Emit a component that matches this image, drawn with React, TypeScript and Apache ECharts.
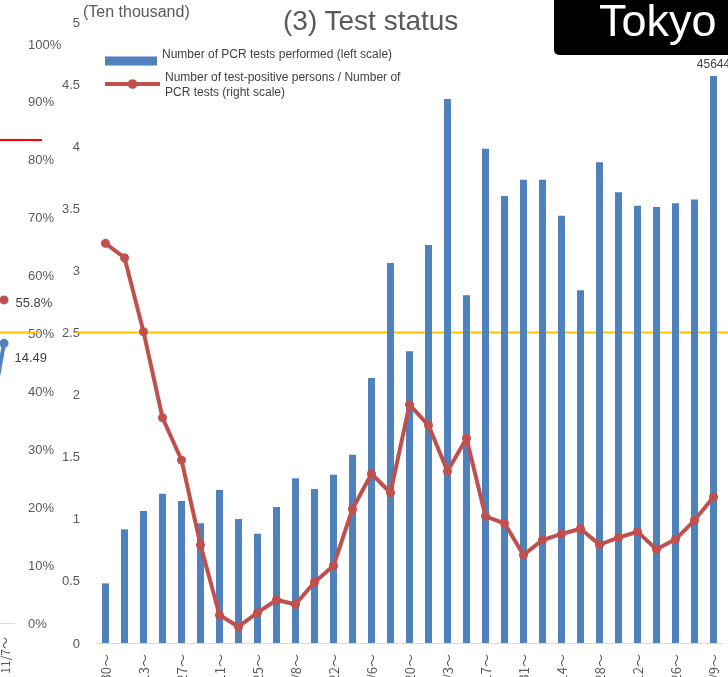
import React, { useEffect, useRef } from 'react';
import * as echarts from 'echarts';

const weeks = ['3/30～', '4/6～', '4/13～', '4/20～', '4/27～', '5/4～', '5/11～', '5/18～', '5/25～', '6/1～', '6/8～', '6/15～', '6/22～', '6/29～', '7/6～', '7/13～', '7/20～', '7/27～', '8/3～', '8/10～', '8/17～', '8/24～', '8/31～', '9/7～', '9/14～', '9/21～', '9/28～', '10/5～', '10/12～', '10/19～', '10/26～', '11/2～', '11/9～'];
// PCR tests performed (ten thousand)
const pcrTests = [0.48, 0.915, 1.063, 1.202, 1.143, 0.964, 1.232, 0.998, 0.88, 1.095, 1.326, 1.24, 1.355, 1.516, 2.134, 3.06, 2.35, 3.205, 4.38, 2.8, 3.98, 3.6, 3.73, 3.73, 3.44, 2.84, 3.87, 3.63, 3.52, 3.51, 3.54, 3.57, 4.5644];
// positive rate (%), right scale
const positiveRate = [32.18, 31.02, 25.07, 18.14, 14.73, 7.89, 2.25, 1.31, 2.44, 3.46, 3.12, 4.89, 6.22, 10.79, 13.63, 12.1, 19.19, 17.53, 13.83, 16.48, 10.2, 9.64, 7.09, 8.29, 8.78, 9.2, 7.92, 8.48, 8.96, 7.54, 8.35, 9.88, 11.76];
const leftTicks = [0, 0.5, 1, 1.5, 2, 2.5, 3, 3.5, 4, 4.5, 5];

// neighbouring chart (partly visible at the left edge)
const prevWeeks = ['10/31～', '11/7～'];
const prevRate = [null, 55.8];
const prevValue = [8.65, 14.49];
const thresholdMain = 2.5;
const thresholdPrevRed = 83.4;

const FONT = 'Liberation Sans, Arial, sans-serif';
const CJK = 'Noto Sans CJK JP, Noto Sans, sans-serif';
const GREY = '#595959';
const BAR_NAME = 'Number of PCR tests performed (left scale)';
const LINE_NAME = 'Number of test-positive persons / Number of\nPCR tests (right scale)';

export default function App() {
  const ref = useRef<HTMLDivElement>(null);
  useEffect(() => {
    if (!ref.current) return;
    const chart = echarts.init(ref.current, undefined, { renderer: 'svg' });
    const last = pcrTests.length - 1;
    chart.setOption({
      animation: false,
      textStyle: { fontFamily: FONT },
      title: {
        text: '(3) Test status',
        left: 278,
        top: 1,
        textStyle: { fontSize: 28, fontWeight: 'normal', color: GREY, fontFamily: FONT },
      },
      legend: [
        {
          orient: 'vertical',
          left: 105,
          top: 46,
          padding: 0,
          itemWidth: 52,
          itemHeight: 9,
          formatter: (name: string) => name + '\n ',
          textStyle: { fontSize: 12, lineHeight: 15, color: '#404040', fontFamily: FONT },
          data: [{ name: BAR_NAME, icon: 'rect' }],
        },
        {
          orient: 'vertical',
          left: 103,
          top: 69,
          padding: 0,
          itemWidth: 55,
          itemHeight: 12,
          textStyle: { fontSize: 12, lineHeight: 15, color: '#404040', fontFamily: FONT },
          data: [{ name: LINE_NAME, lineStyle: { width: 4, color: '#C0504D' }, itemStyle: { color: '#C0504D' } }],
        },
      ],
      grid: [
        { left: 96, top: 22, width: 627, height: 621, outerBoundsMode: 'none', containLabel: false },
        { left: -26, top: 44, width: 40, height: 579, outerBoundsMode: 'none', containLabel: false },
      ],
      xAxis: [
        {
          type: 'category', gridIndex: 0, data: weeks,
          axisLine: { lineStyle: { color: '#D9D9D9', width: 1 } },
          axisTick: { show: false },
          axisLabel: { rotate: 90, interval: 1, margin: 11, fontSize: 13, color: GREY, fontFamily: CJK },
        },
        {
          type: 'category', gridIndex: 1, data: prevWeeks,
          axisLine: { lineStyle: { color: '#D9D9D9', width: 1 } },
          axisTick: { show: false },
          axisLabel: { rotate: 90, interval: 0, margin: 14, fontSize: 12, color: GREY, fontFamily: CJK },
        },
      ],
      yAxis: [
        {
          type: 'value', gridIndex: 0, min: leftTicks[0], max: leftTicks[leftTicks.length - 1], interval: 0.5,
          axisLine: { show: false }, axisTick: { show: false }, splitLine: { show: false },
          axisLabel: { margin: 16, fontSize: 13, color: GREY, fontFamily: FONT },
        },
        { type: 'value', gridIndex: 0, min: 0, max: 50, show: false, splitLine: { show: false } },
        {
          type: 'value', gridIndex: 1, position: 'right', min: 0, max: 100, interval: 10,
          axisLine: { show: false }, axisTick: { show: false }, splitLine: { show: false },
          axisLabel: { margin: 14, fontSize: 13, color: GREY, fontFamily: FONT, formatter: '{value}%' },
        },
        { type: 'value', gridIndex: 1, min: 0, max: 30, show: false, splitLine: { show: false } },
      ],
      series: [
        {
          name: BAR_NAME,
          type: 'bar', xAxisIndex: 0, yAxisIndex: 0, barWidth: 7,
          itemStyle: { color: '#4F81BD' },
          data: pcrTests.map((v, i) => i === last ? {
            value: v,
            label: {
              show: true, position: 'top', distance: 6, fontSize: 12, color: '#404040', fontFamily: FONT,
              formatter: (p: any) => String(Math.round(p.value * 10000)),
            },
          } : v),
        },
        {
          name: LINE_NAME,
          type: 'line', xAxisIndex: 0, yAxisIndex: 1,
          symbol: 'circle', symbolSize: 9,
          lineStyle: { color: '#C0504D', width: 4 },
          itemStyle: { color: '#C0504D' },
          data: positiveRate,
        },
        {
          name: 'prevRate', type: 'line', xAxisIndex: 1, yAxisIndex: 2,
          symbol: 'circle', symbolSize: 9,
          lineStyle: { color: '#C0504D', width: 4 }, itemStyle: { color: '#C0504D' },
          label: { show: true, position: 'right', distance: 7, offset: [0, 3], fontSize: 13, color: '#404040', fontFamily: FONT, formatter: '{c}%' },
          data: prevRate,
        },
        {
          name: 'prevValue', type: 'line', xAxisIndex: 1, yAxisIndex: 3,
          symbol: 'circle', symbolSize: 9,
          lineStyle: { color: '#4F81BD', width: 4 }, itemStyle: { color: '#4F81BD' },
          label: { show: true, position: 'right', distance: 6, offset: [0, 14], fontSize: 13, color: '#404040', fontFamily: FONT,
            formatter: (p: any) => (p.dataIndex === prevValue.length - 1 ? String(p.value) : '') },
          data: prevValue,
        },
      ],
    });
    const yMain = chart.convertToPixel({ yAxisIndex: 0 }, thresholdMain) as number;
    const yRed = chart.convertToPixel({ yAxisIndex: 2 }, thresholdPrevRed) as number;
    chart.setOption({
      graphic: [
        { type: 'line', shape: { x1: 0, y1: yMain, x2: 40, y2: yMain }, style: { stroke: '#FFC000', lineWidth: 2 }, z: 1 },
        { type: 'line', shape: { x1: 75, y1: yMain, x2: 728, y2: yMain }, style: { stroke: '#FFC000', lineWidth: 2 }, z: 1 },
        { type: 'line', shape: { x1: 0, y1: yRed, x2: 42, y2: yRed }, style: { stroke: '#FF0000', lineWidth: 2 }, z: 1 },
        { type: 'text', x: 83, y: 11, style: { text: '(Ten thousand)', font: '16px ' + FONT, fill: GREY, textVerticalAlign: 'middle' } },
        { type: 'rect', shape: { x: 554, y: -10, width: 200, height: 65, r: [0, 0, 0, 5] }, style: { fill: '#000000' } },
        { type: 'text', x: 599, y: 20, style: { text: 'Tokyo', font: '45px ' + FONT, fill: '#FFFFFF', textVerticalAlign: 'middle' } },
      ],
    });
    return () => chart.dispose();
  }, []);
  return <div ref={ref} style={{ position: 'fixed', left: 0, top: 0, width: 728, height: 677 }} />;
}
